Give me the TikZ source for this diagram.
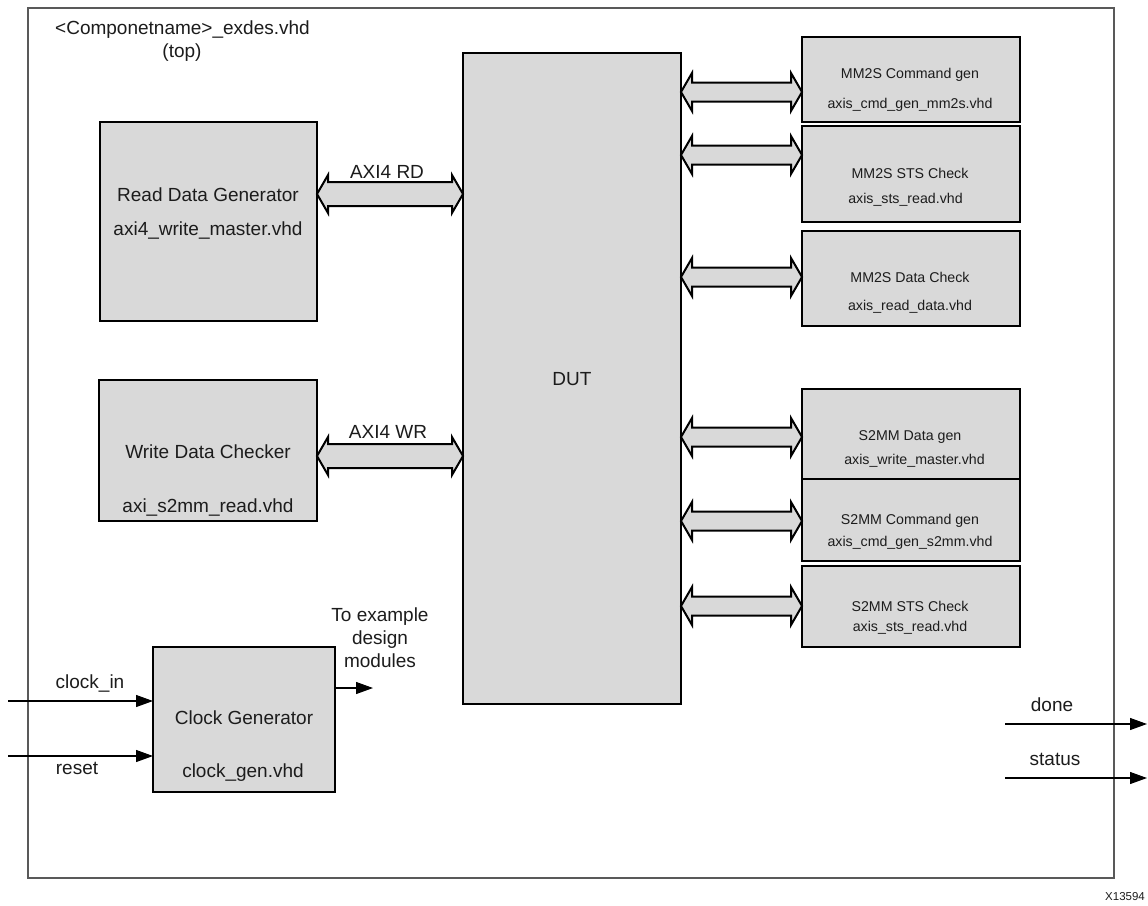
\documentclass[tikz,border=0pt]{standalone}
\usepackage{fontspec}
\setmainfont{Liberation Sans}
\usetikzlibrary{calc}
\usetikzlibrary{arrows.meta}
\definecolor{boxgray}{HTML}{D9D9D9}
\definecolor{framegray}{HTML}{595959}
\definecolor{txtcol}{HTML}{1C1C1C}
\tikzset{blk/.style={draw=black, fill=boxgray, line width=2pt, inner sep=0pt, outer sep=0pt},
big/.style={font=\fontsize{19}{23}\selectfont, text=txtcol, inner sep=0pt},
small/.style={font=\fontsize{14.2}{17}\selectfont, text=txtcol, inner sep=0pt},
sig/.style={-{Triangle[length=17pt,width=12pt]}, line width=1.1pt},
bus/.style={draw=black, fill=boxgray, line width=2pt, line join=miter}}
%bus arrow: left point, right point, half shaft width
\newcommand{\busarrow}[3]{%
\draw[bus] let \p1=#1, \p2=#2 in
  (\x1,\y1) -- (\x1+11pt,\y1+19pt) -- (\x1+11pt,\y1+#3) -- (\x2-11pt,\y1+#3)
  -- (\x2-11pt,\y1+19pt) -- (\x2,\y1) -- (\x2-11pt,\y1-19pt) -- (\x2-11pt,\y1-#3)
  -- (\x1+11pt,\y1-#3) -- (\x1+11pt,\y1-19pt) -- cycle;}

\begin{document}
\begin{tikzpicture}[x=1pt,y=-1pt]
\useasboundingbox[fill=white] (0,0) rectangle (1148,905);
% top level frame
\draw[framegray, line width=1.4pt] (28,8) rectangle (1114,878);
\node[big] (top) at (182.5,30) {<Componetname>\_exdes.vhd};
\node[big] (topb) at (182,53) {(top)};

% blocks
\node[blk, minimum width=217, minimum height=199] (rdg) at (208.5,221.5) {};
\node[blk, minimum width=218, minimum height=141] (wdc) at (208,450.5) {};
\node[blk, minimum width=218, minimum height=651] (dut) at (572,378.5) {};
\node[blk, minimum width=182, minimum height=145] (clkgen) at (244,719.5) {};
\node[blk, minimum width=218, minimum height=85] (mmcmd) at (911,79.5) {};
\node[blk, minimum width=218, minimum height=96] (mmsts) at (911,174) {};
\node[blk, minimum width=218, minimum height=95] (mmdat) at (911,278.5) {};
\node[blk, minimum width=218, minimum height=90] (sdat) at (911,434) {};
\node[blk, minimum width=218, minimum height=82] (scmd) at (911,520) {};
\node[blk, minimum width=218, minimum height=81] (ssts) at (911,606.5) {};

%labels
\node[big] (rdga) at (208,195) {Read Data Generator};
\node[big] (rdgb) at (208,230) {axi4\_write\_master.vhd};
\node[big] (wdca) at (208,452) {Write Data Checker};
\node[big] (wdcb) at (208,507) {axi\_s2mm\_read.vhd};
\node[big] (duta) at (572,379) {DUT};
\node[big] (clka) at (244,718) {Clock Generator};
\node[big] (clkb) at (243,773) {clock\_gen.vhd};
\node[small] (mmcmda) at (910,75) {MM2S Command gen};
\node[small] (mmcmdb) at (910,105) {axis\_cmd\_gen\_mm2s.vhd};
\node[small] (mmstsa) at (910,173) {MM2S STS Check};
\node[small] (mmstsb) at (905.5,200) {axis\_sts\_read.vhd};
\node[small] (mmdata) at (910,277) {MM2S Data Check};
\node[small] (mmdatb) at (910,307) {axis\_read\_data.vhd};
\node[small] (sdata) at (910,437) {S2MM Data gen};
\node[small] (sdatb) at (914.5,461) {axis\_write\_master.vhd};
\node[small] (scmda) at (910,521) {S2MM Command gen};
\node[small] (scmdb) at (910,543) {axis\_cmd\_gen\_s2mm.vhd};
\node[small] (sstsa) at (910,606) {S2MM STS Check};
\node[small] (sstsb) at (910,628) {axis\_sts\_read.vhd};

% buses
\busarrow{(rdg.east |- 0,194)}{(dut.west |- 0,194)}{12pt}
\busarrow{(wdc.east |- 0,456)}{(dut.west |- 0,456)}{12pt}
\node[big] (axird) at (387,172) {AXI4 RD};
\node[big] (axiwr) at (388,432) {AXI4 WR};
\foreach \blk/\lev in {mmcmd/92,mmsts/155,mmdat/277,sdat/437,scmd/521,ssts/606}
  \busarrow{(dut.east |- 0,\lev)}{(\blk.west |- 0,\lev)}{9.5pt};

% clock and reset
\coordinate (clkin) at (8,701);
\coordinate (rstin) at (8,756);
\coordinate (clkout) at (373,688);
\draw[sig] (clkin) -- (clkgen.west |- clkin);
\draw[sig] (rstin) -- (clkgen.west |- rstin);
\draw[sig] (clkgen.east |- clkout) -- (clkout);
\node[big] (clkinl) at (90,683) {clock\_in};
\node[big] (rstl) at (77,768) {reset};
\node[big, align=center] (tomod) at (380,638) {To example\\design\\modules};

% outputs
\coordinate (donea) at (1005,724);
\coordinate (doneb) at (1147,724);
\coordinate (stata) at (1005,778);
\coordinate (statb) at (1147,778);
\draw[sig] (donea) -- (doneb);
\draw[sig] (stata) -- (statb);
\node[big] (donel) at (1052,705) {done};
\node[big] (statl) at (1055,759) {status};

\node[font=\fontsize{11.5}{14}\selectfont, text=txtcol, inner sep=0pt] (fig) at (1125,897) {X13594};
\end{tikzpicture}
\end{document}
